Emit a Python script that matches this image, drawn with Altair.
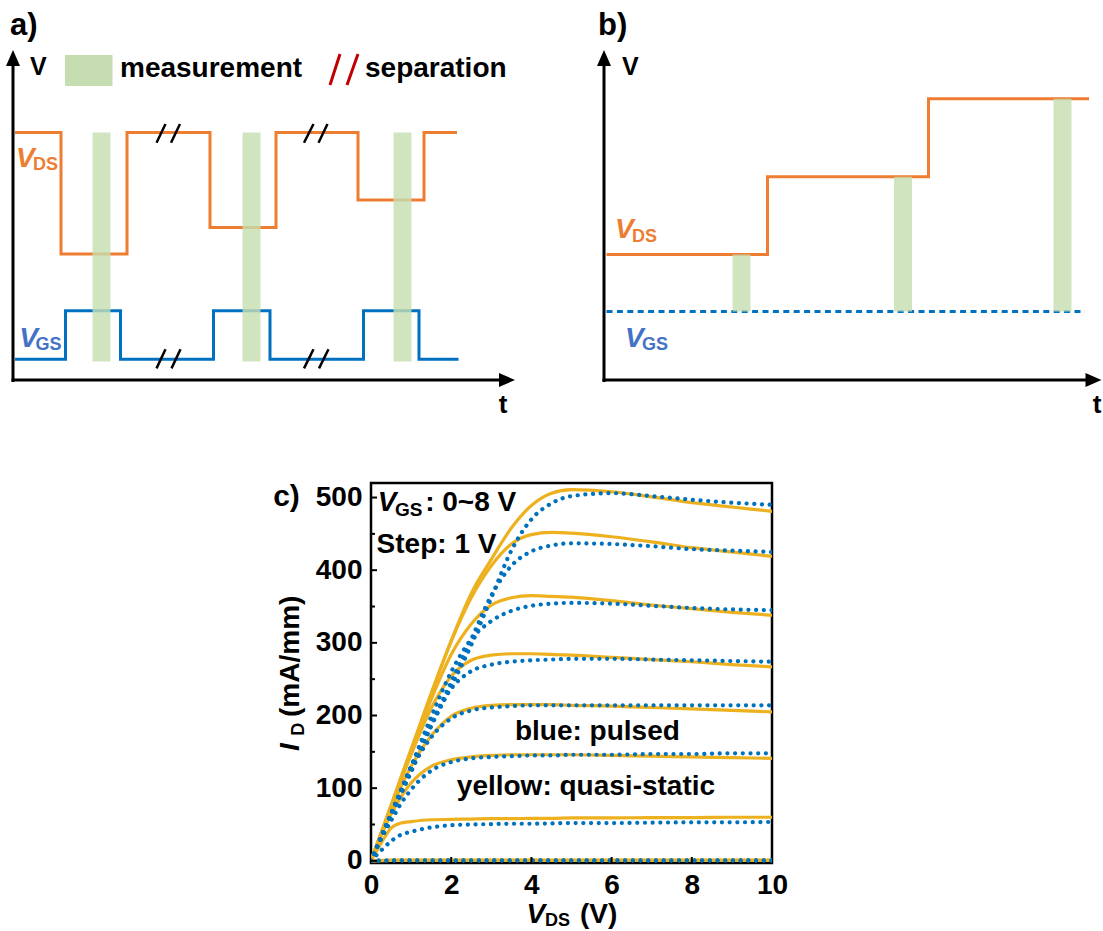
import altair as alt
import pandas as pd

FONT = "Liberation Sans"
ORANGE = "#ED7D31"
BLUE_LINE = "#0070C0"
BLUE_LABEL = "#4472C4"
GREEN = "#C5DDB0"
RED = "#C00000"
YELLOW = "#EDB120"
BLUE_DOT = "#0072BD"

# ---------------- panel a (schematic, arbitrary time / voltage units) ----------------
a_vds_t = [0.4, 9.6, 22.8, 39.4, 52.6, 69.0, 82.2, 88.8]
a_vds_v = [6.19, 3.15, 6.19, 3.81, 6.19, 4.5, 6.19, 6.19]
a_vgs_t = [0.4, 10.5, 21.5, 40.1, 51.4, 70.1, 81.2, 89.1]
a_vgs_v = [0.52, 1.73, 0.52, 1.73, 0.52, 1.73, 0.52, 0.52]
a_bar_t0 = [15.9, 45.9, 76.1]
a_bar_t1 = [19.5, 49.5, 79.7]
a_bar_v0 = [0.46, 0.46, 0.46]
a_bar_v1 = [6.19, 6.19, 6.19]
a_slash_t0 = [28.7, 31.6, 58.2, 61.1, 28.7, 31.7, 58.2, 61.2]
a_slash_t1 = [30.5, 33.4, 60.1, 62.9, 30.5, 33.5, 60.1, 63.1]
a_slash_v0 = [5.93, 5.93, 5.93, 5.93, 0.29, 0.29, 0.29, 0.29]
a_slash_v1 = [6.40, 6.40, 6.40, 6.40, 0.77, 0.77, 0.77, 0.77]
leg_rect_t = [10.4, 19.9]
leg_rect_v = [7.35, 8.125]
leg_slash_t0 = [63.4, 66.8]
leg_slash_t1 = [65.4, 69.0]
leg_slash_v0 = [7.375, 7.375]
leg_slash_v1 = [8.15, 8.15]

# ---------------- panel b ----------------
b_vds_t = [0.5, 32.7, 64.9, 97.0]
b_vds_v = [3.14, 5.08, 7.03, 7.03]
b_vgs_t = [0.5, 96.2]
b_vgs_v = [1.71, 1.71]
b_bar_t0 = [25.7, 58.0, 89.9]
b_bar_t1 = [29.3, 61.6, 93.5]
b_bar_v0 = [1.71, 1.71, 1.71]
b_bar_v1 = [3.14, 5.08, 7.03]

# ---------------- panel c (output characteristics) ----------------
vds = [0, 0.25, 0.5, 0.75, 1, 1.5, 2, 2.5, 3, 3.5, 4, 4.5, 5, 6, 7, 8, 9, 10]
qs = {
    8: [0, 38, 76, 115, 153, 230, 303, 368, 415, 458, 489, 506, 511, 508, 501, 493, 487, 481],
    7: [0, 38, 76, 115, 153, 230, 302, 362, 406, 436, 449, 452, 451, 446, 439, 431, 425, 419],
    6: [0, 38, 75, 113, 150, 222, 284, 326, 352, 362, 365, 364, 363, 358, 352, 347, 342, 338],
    5: [0, 37, 74, 111, 146, 210, 254, 276, 283, 285, 285, 284, 283, 280, 277, 274, 270, 267],
    4: [0, 36, 70, 102, 130, 172, 199, 210, 214, 215, 215, 215, 214, 213, 211, 209, 207, 205],
    3: [0, 34, 64, 88, 107, 130, 139, 143, 145, 146, 146, 146, 146, 145, 144, 143, 142, 141],
    2: [0, 24, 45, 52, 54, 56.5, 57, 57.5, 58, 58, 58.5, 58.5, 59, 59, 59.5, 59.5, 60, 60],
    1: [0, 0.5, 1, 1, 1, 1, 1, 1, 1, 1, 1, 1, 1, 1, 1, 1, 1, 1],
    0: [0, 0.3, 0.5, 0.5, 0.5, 0.5, 0.5, 0.5, 0.5, 0.5, 0.5, 0.5, 0.5, 0.5, 0.5, 0.5, 0.5, 0.5],
}
pulsed = {
    8: [0, 31, 61, 92, 122, 185, 240, 297, 362, 427, 470, 492, 502, 506, 502, 497, 493, 490],
    7: [0, 31, 62, 93, 124, 186, 246, 305, 365, 406, 426, 434, 437, 436, 433, 429, 427, 425],
    6: [0, 32, 64, 97, 130, 198, 260, 305, 330, 344, 351, 354, 355, 354, 351, 348, 346, 345],
    5: [0, 33, 65, 98, 130, 190, 237, 261, 270, 274, 276, 277, 278, 278, 277, 276, 275, 274],
    4: [0, 33, 65, 96, 125, 170, 196, 207, 211, 213, 214, 214, 214, 214, 214, 214, 214, 214],
    3: [0, 30, 55, 79, 98, 124, 136, 141, 143, 144, 145, 145, 146, 146, 147, 147, 148, 148],
    2: [0, 14, 27, 36, 40, 46, 49, 50, 50.5, 51, 51, 51.5, 52, 52, 52.5, 53, 53, 53.5],
    1: [0, 0.3, 0.5, 0.5, 0.5, 0.5, 0.5, 0.5, 0.5, 0.5, 0.5, 0.5, 0.5, 0.5, 0.5, 0.5, 0.5, 0.5],
    0: [0, 0.2, 0.3, 0.3, 0.3, 0.3, 0.3, 0.3, 0.3, 0.3, 0.3, 0.3, 0.3, 0.3, 0.3, 0.3, 0.3, 0.3],
}
x_ticks = [0, 2, 4, 6, 8, 10]
y_ticks = [0, 100, 200, 300, 400, 500]
y_minor = [50, 150, 250, 350, 450]
x_inner = [2, 4, 6, 8]

UP = "M0,-1L0.875,1L-0.875,1Z"
RIGHT = "M1,0L-1,-0.875L-1,0.875Z"


def enc_xy(ch, xs, ys, xf="x", yf="y", axx=None, axy=None):
    return ch.encode(
        x=alt.X(f"{xf}:Q", scale=xs, axis=axx),
        y=alt.Y(f"{yf}:Q", scale=ys, axis=axy),
    )


def tx(text, x, y, size, xs, ys, color="black", italic=False, align="left",
       angle=0, axx=None, axy=None):
    kw = dict(text=text, font=FONT, fontSize=size, fontWeight="bold", color=color,
              align=align, baseline="alphabetic")
    if italic:
        kw["fontStyle"] = "italic"
    if angle:
        kw["angle"] = angle
    df = pd.DataFrame({"x": [x], "y": [y]})
    return enc_xy(alt.Chart(df).mark_text(**kw), xs, ys, axx=axx, axy=axy)


def segs(xs_, ys_, t0, t1, v0, v1, color, width):
    df = pd.DataFrame({"x": t0, "x2": t1, "y": v0, "y2": v1})
    return alt.Chart(df).mark_rule(color=color, strokeWidth=width).encode(
        x=alt.X("x:Q", scale=xs_, axis=None), x2="x2:Q",
        y=alt.Y("y:Q", scale=ys_, axis=None), y2="y2:Q")


def rects(xs_, ys_, t0, t1, v0, v1, opacity=0.85):
    df = pd.DataFrame({"x": t0, "x2": t1, "y": v0, "y2": v1})
    return alt.Chart(df).mark_rect(color=GREEN, opacity=opacity).encode(
        x=alt.X("x:Q", scale=xs_, axis=None), x2="x2:Q",
        y=alt.Y("y:Q", scale=ys_, axis=None), y2="y2:Q")


def step_line(xs_, ys_, t, v, color, dash=None):
    df = pd.DataFrame({"x": t, "y": v})
    kw = dict(color=color, strokeWidth=3, interpolate="step-after", strokeJoin="miter")
    if dash:
        kw["strokeDash"] = dash
    return enc_xy(alt.Chart(df).mark_line(**kw), xs_, ys_)


def arrows(xs_, ys_, xtip):
    axes = segs(xs_, ys_, [0, -0.3], [0, xtip - 1.0], [-0.05, 0], [8.0, 0], "black", 3)
    up = enc_xy(alt.Chart(pd.DataFrame({"x": [0], "y": [8.05]})).mark_point(
        shape=UP, size=256, filled=True, color="black", opacity=1, strokeWidth=0), xs_, ys_)
    rt = enc_xy(alt.Chart(pd.DataFrame({"x": [xtip], "y": [0]})).mark_point(
        shape=RIGHT, size=256, filled=True, color="black", opacity=1, strokeWidth=0), xs_, ys_)
    return [axes, up, rt]


# ---------- panel a ----------
XA = alt.Scale(domain=[-2.6, 105.4], nice=False, zero=False)
YA = alt.Scale(domain=[-1, 9.5], nice=False, zero=False)
panel_a = alt.layer(
    step_line(XA, YA, a_vds_t, a_vds_v, ORANGE),
    step_line(XA, YA, a_vgs_t, a_vgs_v, BLUE_LINE),
    rects(XA, YA, a_bar_t0, a_bar_t1, a_bar_v0, a_bar_v1, 0.8),
    segs(XA, YA, a_slash_t0, a_slash_t1, a_slash_v0, a_slash_v1, "black", 2.5),
    *arrows(XA, YA, 98.8),
    rects(XA, YA, [leg_rect_t[0]], [leg_rect_t[1]], [leg_rect_v[0]], [leg_rect_v[1]], 1),
    segs(XA, YA, leg_slash_t0, leg_slash_t1, leg_slash_v0, leg_slash_v1, RED, 3),
    tx("a)", -0.6, 8.625, 31, XA, YA),
    tx("V", 3.4, 7.625, 25, XA, YA),
    tx("measurement", 21.4, 7.575, 28, XA, YA),
    tx("separation", 70.4, 7.575, 28, XA, YA),
    tx("V", 0.6, 5.325, 28, XA, YA, color=ORANGE, italic=True),
    tx("DS", 4.0, 5.25, 18, XA, YA, color=ORANGE),
    tx("V", 1.26, 0.83, 28, XA, YA, color=BLUE_LABEL, italic=True),
    tx("GS", 4.5, 0.75, 18, XA, YA, color=BLUE_LABEL),
    tx("t", 98.0, -0.825, 26, XA, YA, align="center"),
).properties(width=540, height=420)

# ---------- panel b ----------
XB = alt.Scale(domain=[-8.8, 99.8], nice=False, zero=False)
YB = alt.Scale(domain=[-1, 9.5], nice=False, zero=False)
panel_b = alt.layer(
    step_line(XB, YB, b_vds_t, b_vds_v, ORANGE),
    step_line(XB, YB, b_vgs_t, b_vgs_v, BLUE_LINE, dash=[6, 4.4]),
    rects(XB, YB, b_bar_t0, b_bar_t1, b_bar_v0, b_bar_v1, 0.8),
    *arrows(XB, YB, 97.9),
    tx("b)", -1.2, 8.625, 31, XB, YB),
    tx("V", 3.6, 7.625, 25, XB, YB),
    tx("V", 2.2, 3.54, 28, XB, YB, color=ORANGE, italic=True),
    tx("DS", 5.6, 3.46, 18, XB, YB, color=ORANGE),
    tx("V", 4.2, 0.83, 28, XB, YB, color=BLUE_LABEL, italic=True),
    tx("GS", 7.6, 0.75, 18, XB, YB, color=BLUE_LABEL),
    tx("t", 98.6, -0.825, 26, XB, YB, align="center"),
).properties(width=543, height=420)

# ---------- panel c ----------
XC = alt.Scale(domain=[0, 10], nice=False, zero=False)
YC = alt.Scale(domain=[-3, 520], nice=False, zero=False)
AX = alt.Axis(values=x_ticks, format="d", labelFont=FONT, labelFontSize=28,
              labelFontWeight="bold", labelColor="black", ticks=False, domain=False,
              grid=False, title=None, labelPadding=8, labelFlush=False, labelOverlap=False)
AY = alt.Axis(values=y_ticks, format="d", labelFont=FONT, labelFontSize=28,
              labelFontWeight="bold", labelColor="black", ticks=False, domain=False,
              grid=False, title=None, labelPadding=9, labelFlush=False, labelOverlap=False)

rows_q, rows_p = [], []
for g, vals in qs.items():
    for x, y in zip(vds, vals):
        rows_q.append({"x": x, "y": y, "vgs": g})
for g, vals in pulsed.items():
    for x, y in zip(vds, vals):
        rows_p.append({"x": x, "y": y, "vgs": g})
df_q = pd.DataFrame(rows_q)
df_p = pd.DataFrame(rows_p)

yellow = alt.Chart(df_q).mark_line(color=YELLOW, strokeWidth=3.2, interpolate="monotone",
                                   clip=True).encode(
    x=alt.X("x:Q", scale=XC, axis=AX), y=alt.Y("y:Q", scale=YC, axis=AY), detail="vgs:N")
blue = alt.Chart(df_p).mark_line(color=BLUE_DOT, strokeWidth=4.2, interpolate="monotone",
                                 strokeDash=[0.1, 7.6], strokeCap="round", clip=True).encode(
    x=alt.X("x:Q", scale=XC, axis=AX), y=alt.Y("y:Q", scale=YC, axis=AY), detail="vgs:N")

ytick_major = alt.Chart(pd.DataFrame({"y": y_ticks})).mark_rule(color="black", strokeWidth=2).encode(
    y=alt.Y("y:Q", scale=YC, axis=AY), x=alt.value(0), x2=alt.value(6))
ytick_minor = alt.Chart(pd.DataFrame({"y": y_minor})).mark_rule(color="black", strokeWidth=2).encode(
    y=alt.Y("y:Q", scale=YC, axis=AY), x=alt.value(0), x2=alt.value(4))
xtick_major = alt.Chart(pd.DataFrame({"x": x_inner})).mark_rule(color="black", strokeWidth=2).encode(
    x=alt.X("x:Q", scale=XC, axis=AX), y=alt.value(380), y2=alt.value(374))

panel_c = alt.layer(
    yellow, blue, ytick_major, ytick_minor, xtick_major,
    tx("c)", -2.44, 488.3, 30, XC, YC, axx=AX, axy=AY),
    tx("V", 0.17, 481.4, 28, XC, YC, italic=True, axx=AX, axy=AY),
    tx("GS", 0.6, 474.5, 19, XC, YC, axx=AX, axy=AY),
    tx(": 0~8 V", 1.35, 481.4, 28, XC, YC, axx=AX, axy=AY),
    tx("Step: 1 V", 0.14, 423.6, 28, XC, YC, axx=AX, axy=AY),
    tx("blue: pulsed", 3.59, 166.7, 28, XC, YC, axx=AX, axy=AY),
    tx("yellow: quasi-static", 2.14, 91.0, 28, XC, YC, axx=AX, axy=AY),
    tx("V", 3.88, -85.6, 28, XC, YC, italic=True, axx=AX, axy=AY),
    tx("DS", 4.34, -90.0, 18, XC, YC, axx=AX, axy=AY),
    tx("(V)", 5.21, -85.6, 28, XC, YC, axx=AX, axy=AY),
    tx("I", -1.80, 151.0, 28, XC, YC, italic=True, angle=270, axx=AX, axy=AY),
    tx("D", -1.67, 172.0, 18, XC, YC, angle=270, axx=AX, axy=AY),
    tx("(mA/mm)", -1.80, 198.0, 28, XC, YC, angle=270, axx=AX, axy=AY),
).properties(width=401, height=380,
             view=alt.ViewBackground(stroke="black", strokeWidth=2.5))

spacer = alt.Chart(pd.DataFrame({"z": [0]})).mark_point(opacity=0).properties(width=361, height=380)

top = alt.hconcat(panel_a, panel_b, spacing=20, bounds="flush")
bottom = alt.hconcat(spacer, panel_c, spacing=10, bounds="flush")
chart = alt.vconcat(top, bottom, spacing=60).properties(
    padding={"left": 0, "top": 0, "right": 0, "bottom": 8}, background="white"
).configure_view(stroke=None)

chart.save("out.html", embed_options={"renderer": "svg", "actions": False})
